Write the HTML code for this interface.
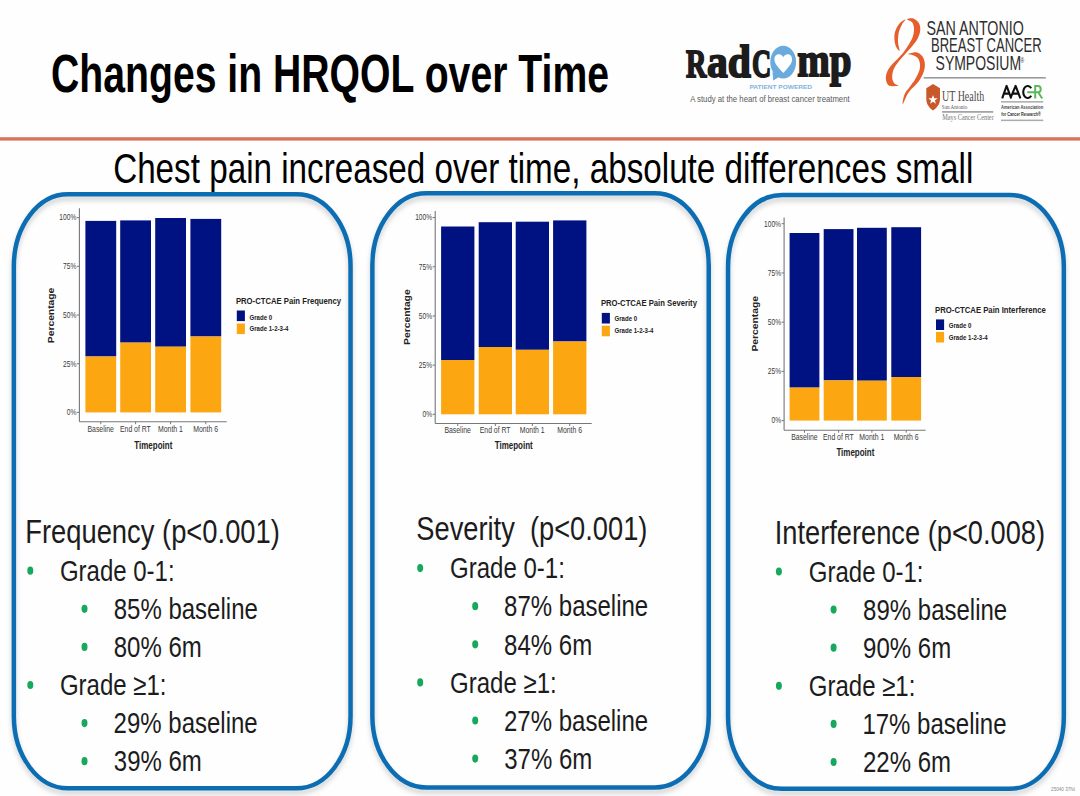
<!DOCTYPE html>
<html><head><meta charset="utf-8"><style>
html,body{margin:0;padding:0;background:#fefefe;width:1080px;height:796px;overflow:hidden}
svg{position:absolute;left:0;top:0;display:block}
</style></head><body>
<svg width="1080" height="796" viewBox="0 0 1080 796">
<defs>
<filter id="sh" x="-10%" y="-10%" width="120%" height="120%">
<feDropShadow dx="0" dy="4" stdDeviation="2.4" flood-color="#000" flood-opacity="0.18"/>
</filter>
</defs>
<text x="51.03" y="92.00" font-family='"Liberation Sans", sans-serif' font-weight="bold" font-size="53.4" fill="#000" textLength="558.01" lengthAdjust="spacingAndGlyphs" style="white-space:pre" >Changes in HRQOL over Time</text>
<rect x="0" y="137.2" width="1080" height="3.4" fill="#d9745b"/>
<text x="113.14" y="183.00" font-family='"Liberation Sans", sans-serif' font-weight="normal" font-size="43" fill="#000" textLength="860.17" lengthAdjust="spacingAndGlyphs" style="white-space:pre" >Chest pain increased over time, absolute differences small</text>
<rect x="13.85" y="194.25" width="336.70" height="594.10" rx="54" ry="72" fill="none" stroke="#0b6db3" stroke-width="4.5" filter="url(#sh)"/>
<rect x="372.35" y="193.35" width="336.40" height="594.10" rx="54" ry="72" fill="none" stroke="#0b6db3" stroke-width="4.5" filter="url(#sh)"/>
<rect x="728.05" y="194.95" width="335.80" height="593.90" rx="54" ry="72" fill="none" stroke="#0b6db3" stroke-width="4.5" filter="url(#sh)"/>
<text x="25.21" y="542.80" font-family='"Liberation Sans", sans-serif' font-weight="normal" font-size="34" fill="#1c1c1c" textLength="254.67" lengthAdjust="spacingAndGlyphs" style="white-space:pre" >Frequency (p&lt;0.001)</text>
<ellipse cx="30.3" cy="570.70" rx="3.0" ry="4.1" fill="#16a85c"/>
<text x="59.90" y="580.90" font-family='"Liberation Sans", sans-serif' font-weight="normal" font-size="30" fill="#1c1c1c" textLength="114.73" lengthAdjust="spacingAndGlyphs" style="white-space:pre" >Grade 0-1:</text>
<ellipse cx="84.5" cy="608.80" rx="3.0" ry="4.1" fill="#16a85c"/>
<text x="113.72" y="619.00" font-family='"Liberation Sans", sans-serif' font-weight="normal" font-size="30" fill="#1c1c1c" textLength="144.11" lengthAdjust="spacingAndGlyphs" style="white-space:pre" >85% baseline</text>
<ellipse cx="84.5" cy="646.90" rx="3.0" ry="4.1" fill="#16a85c"/>
<text x="113.72" y="657.10" font-family='"Liberation Sans", sans-serif' font-weight="normal" font-size="30" fill="#1c1c1c" textLength="88.04" lengthAdjust="spacingAndGlyphs" style="white-space:pre" >80% 6m</text>
<ellipse cx="30.3" cy="685.00" rx="3.0" ry="4.1" fill="#16a85c"/>
<text x="59.90" y="695.20" font-family='"Liberation Sans", sans-serif' font-weight="normal" font-size="30" fill="#1c1c1c" textLength="106.56" lengthAdjust="spacingAndGlyphs" style="white-space:pre" >Grade ≥1:</text>
<ellipse cx="84.5" cy="723.10" rx="3.0" ry="4.1" fill="#16a85c"/>
<text x="113.60" y="733.30" font-family='"Liberation Sans", sans-serif' font-weight="normal" font-size="30" fill="#1c1c1c" textLength="144.11" lengthAdjust="spacingAndGlyphs" style="white-space:pre" >29% baseline</text>
<ellipse cx="84.5" cy="761.20" rx="3.0" ry="4.1" fill="#16a85c"/>
<text x="113.84" y="771.40" font-family='"Liberation Sans", sans-serif' font-weight="normal" font-size="30" fill="#1c1c1c" textLength="88.04" lengthAdjust="spacingAndGlyphs" style="white-space:pre" >39% 6m</text>
<text x="416.37" y="540.20" font-family='"Liberation Sans", sans-serif' font-weight="normal" font-size="34" fill="#1c1c1c" textLength="231.01" lengthAdjust="spacingAndGlyphs" style="white-space:pre" >Severity  (p&lt;0.001)</text>
<ellipse cx="420.2" cy="568.10" rx="3.0" ry="4.1" fill="#16a85c"/>
<text x="450.10" y="578.30" font-family='"Liberation Sans", sans-serif' font-weight="normal" font-size="30" fill="#1c1c1c" textLength="114.73" lengthAdjust="spacingAndGlyphs" style="white-space:pre" >Grade 0-1:</text>
<ellipse cx="475.2" cy="606.20" rx="3.0" ry="4.1" fill="#16a85c"/>
<text x="504.12" y="616.40" font-family='"Liberation Sans", sans-serif' font-weight="normal" font-size="30" fill="#1c1c1c" textLength="144.11" lengthAdjust="spacingAndGlyphs" style="white-space:pre" >87% baseline</text>
<ellipse cx="475.2" cy="644.30" rx="3.0" ry="4.1" fill="#16a85c"/>
<text x="504.12" y="654.50" font-family='"Liberation Sans", sans-serif' font-weight="normal" font-size="30" fill="#1c1c1c" textLength="88.04" lengthAdjust="spacingAndGlyphs" style="white-space:pre" >84% 6m</text>
<ellipse cx="420.2" cy="682.40" rx="3.0" ry="4.1" fill="#16a85c"/>
<text x="450.10" y="692.60" font-family='"Liberation Sans", sans-serif' font-weight="normal" font-size="30" fill="#1c1c1c" textLength="106.56" lengthAdjust="spacingAndGlyphs" style="white-space:pre" >Grade ≥1:</text>
<ellipse cx="475.2" cy="720.50" rx="3.0" ry="4.1" fill="#16a85c"/>
<text x="504.00" y="730.70" font-family='"Liberation Sans", sans-serif' font-weight="normal" font-size="30" fill="#1c1c1c" textLength="144.11" lengthAdjust="spacingAndGlyphs" style="white-space:pre" >27% baseline</text>
<ellipse cx="475.2" cy="758.60" rx="3.0" ry="4.1" fill="#16a85c"/>
<text x="504.24" y="768.80" font-family='"Liberation Sans", sans-serif' font-weight="normal" font-size="30" fill="#1c1c1c" textLength="88.04" lengthAdjust="spacingAndGlyphs" style="white-space:pre" >37% 6m</text>
<text x="774.75" y="543.60" font-family='"Liberation Sans", sans-serif' font-weight="normal" font-size="34" fill="#1c1c1c" textLength="270.27" lengthAdjust="spacingAndGlyphs" style="white-space:pre" >Interference (p&lt;0.008)</text>
<ellipse cx="778.9" cy="571.50" rx="3.0" ry="4.1" fill="#16a85c"/>
<text x="808.80" y="581.70" font-family='"Liberation Sans", sans-serif' font-weight="normal" font-size="30" fill="#1c1c1c" textLength="114.73" lengthAdjust="spacingAndGlyphs" style="white-space:pre" >Grade 0-1:</text>
<ellipse cx="833.6" cy="609.60" rx="3.0" ry="4.1" fill="#16a85c"/>
<text x="863.12" y="619.80" font-family='"Liberation Sans", sans-serif' font-weight="normal" font-size="30" fill="#1c1c1c" textLength="144.11" lengthAdjust="spacingAndGlyphs" style="white-space:pre" >89% baseline</text>
<ellipse cx="833.6" cy="647.70" rx="3.0" ry="4.1" fill="#16a85c"/>
<text x="863.12" y="657.90" font-family='"Liberation Sans", sans-serif' font-weight="normal" font-size="30" fill="#1c1c1c" textLength="88.04" lengthAdjust="spacingAndGlyphs" style="white-space:pre" >90% 6m</text>
<ellipse cx="778.9" cy="685.80" rx="3.0" ry="4.1" fill="#16a85c"/>
<text x="808.80" y="696.00" font-family='"Liberation Sans", sans-serif' font-weight="normal" font-size="30" fill="#1c1c1c" textLength="106.56" lengthAdjust="spacingAndGlyphs" style="white-space:pre" >Grade ≥1:</text>
<ellipse cx="833.6" cy="723.90" rx="3.0" ry="4.1" fill="#16a85c"/>
<text x="862.40" y="734.10" font-family='"Liberation Sans", sans-serif' font-weight="normal" font-size="30" fill="#1c1c1c" textLength="144.11" lengthAdjust="spacingAndGlyphs" style="white-space:pre" >17% baseline</text>
<ellipse cx="833.6" cy="762.00" rx="3.0" ry="4.1" fill="#16a85c"/>
<text x="863.00" y="772.20" font-family='"Liberation Sans", sans-serif' font-weight="normal" font-size="30" fill="#1c1c1c" textLength="88.04" lengthAdjust="spacingAndGlyphs" style="white-space:pre" >22% 6m</text>
<line x1="79.4" y1="208.3" x2="79.4" y2="421.7" stroke="#777" stroke-width="1.1"/>
<line x1="79.4" y1="421.7" x2="226.7" y2="421.7" stroke="#777" stroke-width="1.1"/>
<rect x="85.4" y="220.9" width="30.8" height="135.60" fill="#001282"/>
<rect x="85.4" y="356.5" width="30.8" height="55.90" fill="#fca712"/>
<line x1="100.80" y1="421.7" x2="100.80" y2="424.2" stroke="#777" stroke-width="1"/>
<rect x="120.2" y="220.4" width="30.8" height="122.20" fill="#001282"/>
<rect x="120.2" y="342.6" width="30.8" height="69.80" fill="#fca712"/>
<line x1="135.60" y1="421.7" x2="135.60" y2="424.2" stroke="#777" stroke-width="1"/>
<rect x="155.2" y="218.0" width="30.8" height="128.70" fill="#001282"/>
<rect x="155.2" y="346.7" width="30.8" height="65.70" fill="#fca712"/>
<line x1="170.60" y1="421.7" x2="170.60" y2="424.2" stroke="#777" stroke-width="1"/>
<rect x="190.4" y="218.9" width="30.8" height="117.60" fill="#001282"/>
<rect x="190.4" y="336.5" width="30.8" height="75.90" fill="#fca712"/>
<line x1="205.80" y1="421.7" x2="205.80" y2="424.2" stroke="#777" stroke-width="1"/>
<line x1="76.9" y1="412.40" x2="79.4" y2="412.40" stroke="#777" stroke-width="1"/>
<text x="66.74" y="415.20" font-family='"Liberation Sans", sans-serif' font-weight="normal" font-size="8.3" fill="#3a3a3a" textLength="9.60" lengthAdjust="spacingAndGlyphs" style="white-space:pre" >0%</text>
<line x1="76.9" y1="363.70" x2="79.4" y2="363.70" stroke="#777" stroke-width="1"/>
<text x="63.05" y="366.50" font-family='"Liberation Sans", sans-serif' font-weight="normal" font-size="8.3" fill="#3a3a3a" textLength="13.29" lengthAdjust="spacingAndGlyphs" style="white-space:pre" >25%</text>
<line x1="76.9" y1="315.00" x2="79.4" y2="315.00" stroke="#777" stroke-width="1"/>
<text x="63.05" y="317.80" font-family='"Liberation Sans", sans-serif' font-weight="normal" font-size="8.3" fill="#3a3a3a" textLength="13.29" lengthAdjust="spacingAndGlyphs" style="white-space:pre" >50%</text>
<line x1="76.9" y1="266.30" x2="79.4" y2="266.30" stroke="#777" stroke-width="1"/>
<text x="63.05" y="269.10" font-family='"Liberation Sans", sans-serif' font-weight="normal" font-size="8.3" fill="#3a3a3a" textLength="13.29" lengthAdjust="spacingAndGlyphs" style="white-space:pre" >75%</text>
<line x1="76.9" y1="217.60" x2="79.4" y2="217.60" stroke="#777" stroke-width="1"/>
<text x="59.33" y="220.40" font-family='"Liberation Sans", sans-serif' font-weight="normal" font-size="8.3" fill="#3a3a3a" textLength="16.98" lengthAdjust="spacingAndGlyphs" style="white-space:pre" >100%</text>
<text x="87.49" y="431.90" font-family='"Liberation Sans", sans-serif' font-weight="normal" font-size="8.6" fill="#3a3a3a" textLength="26.39" lengthAdjust="spacingAndGlyphs" style="white-space:pre" >Baseline</text>
<text x="119.97" y="431.90" font-family='"Liberation Sans", sans-serif' font-weight="normal" font-size="8.6" fill="#3a3a3a" textLength="30.85" lengthAdjust="spacingAndGlyphs" style="white-space:pre" >End of RT</text>
<text x="158.06" y="431.90" font-family='"Liberation Sans", sans-serif' font-weight="normal" font-size="8.6" fill="#3a3a3a" textLength="24.86" lengthAdjust="spacingAndGlyphs" style="white-space:pre" >Month 1</text>
<text x="193.24" y="431.90" font-family='"Liberation Sans", sans-serif' font-weight="normal" font-size="8.6" fill="#3a3a3a" textLength="24.86" lengthAdjust="spacingAndGlyphs" style="white-space:pre" >Month 6</text>
<text x="134.33" y="448.50" font-family='"Liberation Sans", sans-serif' font-weight="bold" font-size="10.5" fill="#222" textLength="37.98" lengthAdjust="spacingAndGlyphs" style="white-space:pre" >Timepoint</text>
<g transform="translate(54.1,315.3) rotate(-90) scale(1,0.88)">
<text x="-27.91" y="0.00" font-family='"Liberation Sans", sans-serif' font-weight="bold" font-size="10.3" fill="#222" textLength="55.54" lengthAdjust="spacingAndGlyphs" style="white-space:pre" >Percentage</text>
</g>
<text x="235.90" y="303.70" font-family='"Liberation Sans", sans-serif' font-weight="bold" font-size="9.6" fill="#222" textLength="105.23" lengthAdjust="spacingAndGlyphs" style="white-space:pre" >PRO-CTCAE Pain Frequency</text>
<rect x="236.8" y="310.5" width="8.1" height="10.6" fill="#001282"/>
<rect x="236.8" y="323.5" width="8.1" height="10.6" fill="#fca712"/>
<text x="249.46" y="319.50" font-family='"Liberation Sans", sans-serif' font-weight="bold" font-size="7.8" fill="#222" textLength="22.66" lengthAdjust="spacingAndGlyphs" style="white-space:pre" >Grade 0</text>
<text x="249.46" y="331.30" font-family='"Liberation Sans", sans-serif' font-weight="bold" font-size="7.8" fill="#222" textLength="38.89" lengthAdjust="spacingAndGlyphs" style="white-space:pre" >Grade 1-2-3-4</text>
<line x1="435.2" y1="211.0" x2="435.2" y2="423.5" stroke="#777" stroke-width="1.1"/>
<line x1="435.2" y1="423.5" x2="591.7" y2="423.5" stroke="#777" stroke-width="1.1"/>
<rect x="441.1" y="226.5" width="33.3" height="133.50" fill="#001282"/>
<rect x="441.1" y="360.0" width="33.3" height="54.30" fill="#fca712"/>
<line x1="457.75" y1="423.5" x2="457.75" y2="426.0" stroke="#777" stroke-width="1"/>
<rect x="478.7" y="222.2" width="33.3" height="124.80" fill="#001282"/>
<rect x="478.7" y="347.0" width="33.3" height="67.30" fill="#fca712"/>
<line x1="495.35" y1="423.5" x2="495.35" y2="426.0" stroke="#777" stroke-width="1"/>
<rect x="515.7" y="221.7" width="33.3" height="128.10" fill="#001282"/>
<rect x="515.7" y="349.8" width="33.3" height="64.50" fill="#fca712"/>
<line x1="532.35" y1="423.5" x2="532.35" y2="426.0" stroke="#777" stroke-width="1"/>
<rect x="553.1" y="220.4" width="33.3" height="121.10" fill="#001282"/>
<rect x="553.1" y="341.5" width="33.3" height="72.80" fill="#fca712"/>
<line x1="569.75" y1="423.5" x2="569.75" y2="426.0" stroke="#777" stroke-width="1"/>
<line x1="432.7" y1="414.30" x2="435.2" y2="414.30" stroke="#777" stroke-width="1"/>
<text x="422.54" y="417.10" font-family='"Liberation Sans", sans-serif' font-weight="normal" font-size="8.3" fill="#3a3a3a" textLength="9.60" lengthAdjust="spacingAndGlyphs" style="white-space:pre" >0%</text>
<line x1="432.7" y1="365.12" x2="435.2" y2="365.12" stroke="#777" stroke-width="1"/>
<text x="418.85" y="367.93" font-family='"Liberation Sans", sans-serif' font-weight="normal" font-size="8.3" fill="#3a3a3a" textLength="13.29" lengthAdjust="spacingAndGlyphs" style="white-space:pre" >25%</text>
<line x1="432.7" y1="315.95" x2="435.2" y2="315.95" stroke="#777" stroke-width="1"/>
<text x="418.85" y="318.75" font-family='"Liberation Sans", sans-serif' font-weight="normal" font-size="8.3" fill="#3a3a3a" textLength="13.29" lengthAdjust="spacingAndGlyphs" style="white-space:pre" >50%</text>
<line x1="432.7" y1="266.77" x2="435.2" y2="266.77" stroke="#777" stroke-width="1"/>
<text x="418.85" y="269.57" font-family='"Liberation Sans", sans-serif' font-weight="normal" font-size="8.3" fill="#3a3a3a" textLength="13.29" lengthAdjust="spacingAndGlyphs" style="white-space:pre" >75%</text>
<line x1="432.7" y1="217.60" x2="435.2" y2="217.60" stroke="#777" stroke-width="1"/>
<text x="415.13" y="220.40" font-family='"Liberation Sans", sans-serif' font-weight="normal" font-size="8.3" fill="#3a3a3a" textLength="16.98" lengthAdjust="spacingAndGlyphs" style="white-space:pre" >100%</text>
<text x="444.44" y="433.30" font-family='"Liberation Sans", sans-serif' font-weight="normal" font-size="8.6" fill="#3a3a3a" textLength="26.39" lengthAdjust="spacingAndGlyphs" style="white-space:pre" >Baseline</text>
<text x="479.72" y="433.30" font-family='"Liberation Sans", sans-serif' font-weight="normal" font-size="8.6" fill="#3a3a3a" textLength="30.85" lengthAdjust="spacingAndGlyphs" style="white-space:pre" >End of RT</text>
<text x="519.81" y="433.30" font-family='"Liberation Sans", sans-serif' font-weight="normal" font-size="8.6" fill="#3a3a3a" textLength="24.86" lengthAdjust="spacingAndGlyphs" style="white-space:pre" >Month 1</text>
<text x="557.19" y="433.30" font-family='"Liberation Sans", sans-serif' font-weight="normal" font-size="8.6" fill="#3a3a3a" textLength="24.86" lengthAdjust="spacingAndGlyphs" style="white-space:pre" >Month 6</text>
<text x="494.78" y="449.40" font-family='"Liberation Sans", sans-serif' font-weight="bold" font-size="10.5" fill="#222" textLength="37.98" lengthAdjust="spacingAndGlyphs" style="white-space:pre" >Timepoint</text>
<g transform="translate(409.5,317.0) rotate(-90) scale(1,0.88)">
<text x="-27.91" y="0.00" font-family='"Liberation Sans", sans-serif' font-weight="bold" font-size="10.3" fill="#222" textLength="55.54" lengthAdjust="spacingAndGlyphs" style="white-space:pre" >Percentage</text>
</g>
<text x="600.90" y="306.10" font-family='"Liberation Sans", sans-serif' font-weight="bold" font-size="9.6" fill="#222" textLength="96.03" lengthAdjust="spacingAndGlyphs" style="white-space:pre" >PRO-CTCAE Pain Severity</text>
<rect x="601.8" y="312.9" width="8.1" height="10.6" fill="#001282"/>
<rect x="601.8" y="325.7" width="8.1" height="10.6" fill="#fca712"/>
<text x="614.46" y="321.10" font-family='"Liberation Sans", sans-serif' font-weight="bold" font-size="7.8" fill="#222" textLength="22.66" lengthAdjust="spacingAndGlyphs" style="white-space:pre" >Grade 0</text>
<text x="614.46" y="333.40" font-family='"Liberation Sans", sans-serif' font-weight="bold" font-size="7.8" fill="#222" textLength="38.89" lengthAdjust="spacingAndGlyphs" style="white-space:pre" >Grade 1-2-3-4</text>
<line x1="784.1" y1="217.6" x2="784.1" y2="430.2" stroke="#777" stroke-width="1.1"/>
<line x1="784.1" y1="430.2" x2="925.7" y2="430.2" stroke="#777" stroke-width="1.1"/>
<rect x="789.6" y="233.0" width="29.8" height="154.60" fill="#001282"/>
<rect x="789.6" y="387.6" width="29.8" height="33.00" fill="#fca712"/>
<line x1="804.50" y1="430.2" x2="804.50" y2="432.7" stroke="#777" stroke-width="1"/>
<rect x="823.7" y="229.1" width="29.8" height="151.30" fill="#001282"/>
<rect x="823.7" y="380.4" width="29.8" height="40.20" fill="#fca712"/>
<line x1="838.60" y1="430.2" x2="838.60" y2="432.7" stroke="#777" stroke-width="1"/>
<rect x="857.0" y="227.8" width="29.8" height="152.90" fill="#001282"/>
<rect x="857.0" y="380.7" width="29.8" height="39.90" fill="#fca712"/>
<line x1="871.90" y1="430.2" x2="871.90" y2="432.7" stroke="#777" stroke-width="1"/>
<rect x="891.3" y="227.2" width="29.8" height="149.80" fill="#001282"/>
<rect x="891.3" y="377.0" width="29.8" height="43.60" fill="#fca712"/>
<line x1="906.20" y1="430.2" x2="906.20" y2="432.7" stroke="#777" stroke-width="1"/>
<line x1="781.6" y1="420.60" x2="784.1" y2="420.60" stroke="#777" stroke-width="1"/>
<text x="771.44" y="423.40" font-family='"Liberation Sans", sans-serif' font-weight="normal" font-size="8.3" fill="#3a3a3a" textLength="9.60" lengthAdjust="spacingAndGlyphs" style="white-space:pre" >0%</text>
<line x1="781.6" y1="371.38" x2="784.1" y2="371.38" stroke="#777" stroke-width="1"/>
<text x="767.75" y="374.18" font-family='"Liberation Sans", sans-serif' font-weight="normal" font-size="8.3" fill="#3a3a3a" textLength="13.29" lengthAdjust="spacingAndGlyphs" style="white-space:pre" >25%</text>
<line x1="781.6" y1="322.15" x2="784.1" y2="322.15" stroke="#777" stroke-width="1"/>
<text x="767.75" y="324.95" font-family='"Liberation Sans", sans-serif' font-weight="normal" font-size="8.3" fill="#3a3a3a" textLength="13.29" lengthAdjust="spacingAndGlyphs" style="white-space:pre" >50%</text>
<line x1="781.6" y1="272.93" x2="784.1" y2="272.93" stroke="#777" stroke-width="1"/>
<text x="767.75" y="275.73" font-family='"Liberation Sans", sans-serif' font-weight="normal" font-size="8.3" fill="#3a3a3a" textLength="13.29" lengthAdjust="spacingAndGlyphs" style="white-space:pre" >75%</text>
<line x1="781.6" y1="223.70" x2="784.1" y2="223.70" stroke="#777" stroke-width="1"/>
<text x="764.03" y="226.50" font-family='"Liberation Sans", sans-serif' font-weight="normal" font-size="8.3" fill="#3a3a3a" textLength="16.98" lengthAdjust="spacingAndGlyphs" style="white-space:pre" >100%</text>
<text x="791.19" y="440.00" font-family='"Liberation Sans", sans-serif' font-weight="normal" font-size="8.6" fill="#3a3a3a" textLength="26.39" lengthAdjust="spacingAndGlyphs" style="white-space:pre" >Baseline</text>
<text x="822.97" y="440.00" font-family='"Liberation Sans", sans-serif' font-weight="normal" font-size="8.6" fill="#3a3a3a" textLength="30.85" lengthAdjust="spacingAndGlyphs" style="white-space:pre" >End of RT</text>
<text x="859.36" y="440.00" font-family='"Liberation Sans", sans-serif' font-weight="normal" font-size="8.6" fill="#3a3a3a" textLength="24.86" lengthAdjust="spacingAndGlyphs" style="white-space:pre" >Month 1</text>
<text x="893.64" y="440.00" font-family='"Liberation Sans", sans-serif' font-weight="normal" font-size="8.6" fill="#3a3a3a" textLength="24.86" lengthAdjust="spacingAndGlyphs" style="white-space:pre" >Month 6</text>
<text x="836.38" y="455.70" font-family='"Liberation Sans", sans-serif' font-weight="bold" font-size="10.5" fill="#222" textLength="37.98" lengthAdjust="spacingAndGlyphs" style="white-space:pre" >Timepoint</text>
<g transform="translate(758.1,323.7) rotate(-90) scale(1,0.88)">
<text x="-27.91" y="0.00" font-family='"Liberation Sans", sans-serif' font-weight="bold" font-size="10.3" fill="#222" textLength="55.54" lengthAdjust="spacingAndGlyphs" style="white-space:pre" >Percentage</text>
</g>
<text x="935.10" y="312.90" font-family='"Liberation Sans", sans-serif' font-weight="bold" font-size="9.6" fill="#222" textLength="110.79" lengthAdjust="spacingAndGlyphs" style="white-space:pre" >PRO-CTCAE Pain Interference</text>
<rect x="936.0" y="319.4" width="8.1" height="10.6" fill="#001282"/>
<rect x="936.0" y="331.9" width="8.1" height="10.6" fill="#fca712"/>
<text x="948.76" y="328.10" font-family='"Liberation Sans", sans-serif' font-weight="bold" font-size="7.8" fill="#222" textLength="22.66" lengthAdjust="spacingAndGlyphs" style="white-space:pre" >Grade 0</text>
<text x="948.76" y="340.00" font-family='"Liberation Sans", sans-serif' font-weight="bold" font-size="7.8" fill="#222" textLength="38.89" lengthAdjust="spacingAndGlyphs" style="white-space:pre" >Grade 1-2-3-4</text>
<g transform="translate(0,77.0) scale(1,1.0) translate(0,-77.0)">
<text x="685.98" y="77.00" font-family='"Liberation Serif", serif' font-weight="bold" font-size="41" fill="#1c1c1c" textLength="20.40" lengthAdjust="spacingAndGlyphs" style="white-space:pre" stroke="#1c1c1c" stroke-width="1.9">R</text>
</g>
<g transform="translate(0,77.0) scale(1,0.97) translate(0,-77.0)">
<text x="706.95" y="77.00" font-family='"Liberation Serif", serif' font-weight="bold" font-size="48" fill="#1c1c1c" textLength="43.91" lengthAdjust="spacingAndGlyphs" style="white-space:pre" stroke="#1c1c1c" stroke-width="1.9">ad</text>
</g>
<g transform="translate(0,77.0) scale(1,1.0) translate(0,-77.0)">
<text x="752.07" y="77.00" font-family='"Liberation Serif", serif' font-weight="bold" font-size="41" fill="#1c1c1c" textLength="19.18" lengthAdjust="spacingAndGlyphs" style="white-space:pre" stroke="#1c1c1c" stroke-width="1.9">C</text>
</g>
<g transform="translate(0,76.3) scale(1,1.02) translate(0,-76.3)">
<text x="797.22" y="76.30" font-family='"Liberation Serif", serif' font-weight="bold" font-size="48" fill="#1c1c1c" textLength="54.31" lengthAdjust="spacingAndGlyphs" style="white-space:pre" stroke="#1c1c1c" stroke-width="1.9">mp</text>
</g>
<ellipse cx="783.2" cy="62.1" rx="12.9" ry="16.4" fill="#6aaadc"/>
<path d="M772.5,72 L773.3,80.4 L780.5,76 Z" fill="#6aaadc"/>
<path d="M783.3,73.1 C779,68 774.4,64 774.4,59.2 C774.4,55.8 776.6,54.2 778.9,54.2 C781,54.2 782.6,55.6 783.3,57.2 C784,55.6 785.6,54.2 787.7,54.2 C790,54.2 792.1,55.8 792.1,59.2 C792.1,64 787.6,68 783.3,73.1 Z" fill="#fff"/>
<text x="749.47" y="89.00" font-family='"Liberation Sans", sans-serif' font-weight="bold" font-size="5.6" fill="#7fb2de" textLength="62.62" lengthAdjust="spacingAndGlyphs" style="white-space:pre" >PATIENT POWERED</text>
<text x="690.20" y="101.90" font-family='"Liberation Sans", sans-serif' font-weight="normal" font-size="8.6" fill="#5a5a5a" textLength="159.46" lengthAdjust="spacingAndGlyphs" style="white-space:pre" >A study at the heart of breast cancer treatment</text>
<path d="M905.50,19.60 C905.08,19.43 901.25,21.45 899.50,23.50 C897.75,25.55 895.82,28.98 895.00,31.90 C894.18,34.82 894.35,38.40 894.60,41.00 C894.85,43.60 895.67,45.87 896.50,47.50 C897.33,49.13 899.28,51.22 899.60,50.80 C899.92,50.38 898.67,46.75 898.40,45.00 C898.13,43.25 897.92,42.48 898.00,40.30 C898.08,38.12 898.23,34.53 898.90,31.90 C899.57,29.27 900.90,26.55 902.00,24.50 C903.10,22.45 905.92,19.77 905.50,19.60 Z" fill="#e55e2b"/>
<path d="M907.00,19.30 C907.20,18.65 911.33,17.80 913.30,18.40 C915.27,19.00 917.63,20.95 918.80,22.90 C919.97,24.85 920.47,27.55 920.30,30.10 C920.13,32.65 919.13,35.55 917.80,38.20 C916.47,40.85 914.40,43.37 912.30,46.00 C910.20,48.63 907.33,51.58 905.20,54.00 C903.07,56.42 901.28,58.25 899.50,60.50 C897.72,62.75 895.68,65.25 894.50,67.50 C893.32,69.75 892.72,71.92 892.40,74.00 C892.08,76.08 892.17,78.33 892.60,80.00 C893.03,81.67 894.00,83.07 895.00,84.00 C896.00,84.93 898.85,85.23 898.60,85.60 C898.35,85.97 895.23,86.30 893.50,86.20 C891.77,86.10 889.48,86.28 888.20,85.00 C886.92,83.72 885.92,80.83 885.80,78.50 C885.68,76.17 886.47,73.33 887.50,71.00 C888.53,68.67 890.33,66.50 892.00,64.50 C893.67,62.50 895.67,60.92 897.50,59.00 C899.33,57.08 901.25,55.20 903.00,53.00 C904.75,50.80 906.40,48.42 908.00,45.80 C909.60,43.18 911.60,40.12 912.60,37.30 C913.60,34.48 914.08,31.40 914.00,28.90 C913.92,26.40 913.27,23.90 912.10,22.30 C910.93,20.70 906.80,19.95 907.00,19.30 Z" fill="#e55e2b"/>
<path d="M908.20,54.00 C908.83,53.53 914.42,51.98 916.80,52.40 C919.18,52.82 921.17,54.65 922.50,56.50 C923.83,58.35 924.58,61.00 924.80,63.50 C925.02,66.00 924.87,68.45 923.80,71.50 C922.73,74.55 920.93,78.32 918.40,81.80 C915.87,85.28 911.20,88.70 908.60,92.40 C906.00,96.10 903.48,103.65 902.80,104.00 C902.12,104.35 903.30,97.42 904.50,94.50 C905.70,91.58 908.25,89.00 910.00,86.50 C911.75,84.00 913.42,82.25 915.00,79.50 C916.58,76.75 918.70,72.75 919.50,70.00 C920.30,67.25 920.13,65.03 919.80,63.00 C919.47,60.97 918.63,59.10 917.50,57.80 C916.37,56.50 914.55,55.83 913.00,55.20 C911.45,54.57 907.57,54.47 908.20,54.00 Z" fill="#e55e2b"/>
<text x="926.56" y="34.90" font-family='"Liberation Sans", sans-serif' font-weight="normal" font-size="21" fill="#2e2e2e" textLength="97.31" lengthAdjust="spacingAndGlyphs" style="white-space:pre" >SAN ANTONIO</text>
<text x="930.96" y="52.30" font-family='"Liberation Sans", sans-serif' font-weight="normal" font-size="21" fill="#2e2e2e" textLength="110.68" lengthAdjust="spacingAndGlyphs" style="white-space:pre" >BREAST CANCER</text>
<text x="935.57" y="70.10" font-family='"Liberation Sans", sans-serif' font-weight="normal" font-size="21" fill="#2e2e2e" textLength="85.48" lengthAdjust="spacingAndGlyphs" style="white-space:pre" >SYMPOSIUM</text>
<text x="1020.43" y="62.50" font-family='"Liberation Sans", sans-serif' font-weight="normal" font-size="7" fill="#2e2e2e" textLength="3.66" lengthAdjust="spacingAndGlyphs" style="white-space:pre" >®</text>
<rect x="923.6" y="77.0" width="122.2" height="1.6" fill="#9b9b9b"/>
<path d="M926.3,88.3 L933,84.1 L940,88.3 L940,99 C940,104.5 936.5,108 933,110.4 C929.5,108 926.3,104.5 926.3,99 Z" fill="#c8592a"/>
<polygon points="933.00,94.90 934.18,98.18 937.66,98.29 934.90,100.42 935.88,103.76 933.00,101.80 930.12,103.76 931.10,100.42 928.34,98.29 931.82,98.18" fill="#fff"/>
<text x="942.00" y="101.10" font-family='"Liberation Serif", serif' font-weight="normal" font-size="14" fill="#4a4a4a" textLength="42.25" lengthAdjust="spacingAndGlyphs" style="white-space:pre" >UT Health</text>
<text x="941.87" y="109.30" font-family='"Liberation Serif", serif' font-weight="normal" font-size="6.9" fill="#555" textLength="25.32" lengthAdjust="spacingAndGlyphs" style="white-space:pre" >San Antonio</text>
<rect x="942" y="111.1" width="51.3" height="1.6" fill="#9b9b9b"/>
<text x="942.21" y="120.40" font-family='"Liberation Serif", serif' font-weight="normal" font-size="7.5" fill="#777" textLength="51.55" lengthAdjust="spacingAndGlyphs" style="white-space:pre" >Mays Cancer Center</text>
<path d="M1002.2,98.3 L1006.6,85.9 L1011.2,98.3 M1010.4,98.3 L1015.6,85.9 L1020.4,98.3 M1004.4,93.6 H1008.9 M1012.4,93.6 H1018.6" fill="none" stroke="#111" stroke-width="2.1" stroke-linejoin="round"/>
<path d="M1031.2,88.2 A4.5,6.0 0 1 0 1031.2,95.8" fill="none" stroke="#111" stroke-width="2.1"/>
<path d="M1027.2,92.2 H1036 M1035.2,98.5 V86.1 H1038 C1041.6,86.1 1041.6,92.2 1038,92.2 H1035.2 M1038.2,92.2 L1042.2,98.5" fill="none" stroke="#5cb85c" stroke-width="2.0"/>
<rect x="1001" y="101.1" width="42.3" height="1.5" fill="#aaa"/>
<text x="1001.10" y="108.60" font-family='"Liberation Sans", sans-serif' font-weight="bold" font-size="5.4" fill="#444" textLength="42.15" lengthAdjust="spacingAndGlyphs" style="white-space:pre" >American Association</text>
<text x="1001.14" y="115.60" font-family='"Liberation Sans", sans-serif' font-weight="bold" font-size="5.4" fill="#333" textLength="39.73" lengthAdjust="spacingAndGlyphs" style="white-space:pre" >for Cancer Research®</text>
<rect x="1001" y="119.6" width="42.3" height="1.5" fill="#aaa"/>
<text x="1051.07" y="790.60" font-family='"Liberation Sans", sans-serif' font-weight="normal" font-size="5.2" fill="#888" textLength="23.86" lengthAdjust="spacingAndGlyphs" style="white-space:pre" >25040 37Nt</text>

</svg>
</body></html>
